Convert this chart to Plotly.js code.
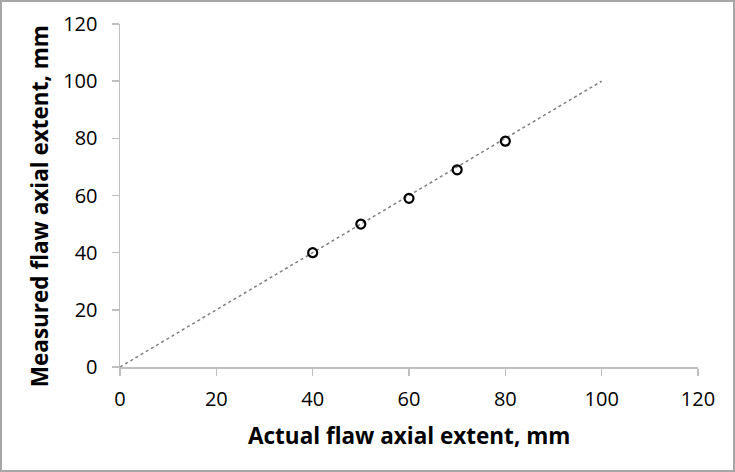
<!DOCTYPE html>
<html><head><meta charset="utf-8">
<script src="https://cdn.plot.ly/plotly-3.0.1.min.js"></script>
<style>
html,body{margin:0;padding:0;background:#fff;}
#wrap{width:735px;height:472px;box-sizing:border-box;border:2px solid #a6a6a6;background:#fff;}
#chart{width:731px;height:468px;}
</style></head>
<body><div id="wrap"><div id="chart"></div></div>
<script>
const actual = [40, 50, 60, 70, 80];
const measured = [40, 50, 59, 69, 79];
const refX = [0, 100];
const refY = [0, 100];
const tickVals = [0, 20, 40, 60, 80, 100, 120];
const xTitle = 'Actual flaw axial extent, mm';
const yTitle = 'Measured flaw axial extent, mm';

const traces = [
  {x: refX, y: refY, mode: 'lines', type: 'scatter',
   line: {color: '#7f7f7f', width: 1.5, dash: '3px,3px'}, hoverinfo: 'skip', showlegend: false},
  {x: actual, y: measured, mode: 'markers', type: 'scatter',
   marker: {symbol: 'circle-open', size: 9, color: '#000', line: {width: 2.2, color: '#000'}}, showlegend: false}
];
const fontFam = 'Open Sans, Liberation Sans, sans-serif';
const titleFont = {family: fontFam, size: 22.5, color: '#000', weight: 'bold'};
const layout = {
  width: 731, height: 468,
  margin: {l: 118, r: 35, t: 22, b: 103},
  paper_bgcolor: '#fff', plot_bgcolor: '#fff',
  showlegend: false,
  xaxis: {range: [0, 120], tickvals: tickVals, ticktext: tickVals.map(String),
    showgrid: false, zeroline: false, showline: true, linecolor: '#bfbfbf', linewidth: 1.5,
    ticks: 'outside', ticklen: 7, tickcolor: '#bfbfbf', tickwidth: 1.5, ticklabelstandoff: 6,
    tickfont: {family: fontFam, size: 20, color: '#000'}},
  yaxis: {range: [0, 120], tickvals: tickVals, ticktext: tickVals.map(String),
    showgrid: false, zeroline: false, showline: true, linecolor: '#bfbfbf', linewidth: 1.5,
    ticks: 'outside', ticklen: 7, tickcolor: '#bfbfbf', tickwidth: 1.5, ticklabelstandoff: 10,
    tickfont: {family: fontFam, size: 20, color: '#000'}},
  annotations: [
    {text: xTitle, xref: 'paper', yref: 'paper', x: 0.5, y: -0.2, xanchor: 'center', yanchor: 'middle',
     showarrow: false, font: titleFont},
    {text: yTitle, xref: 'paper', yref: 'paper', x: -0.14, y: 0.469, xanchor: 'center', yanchor: 'middle',
     textangle: -90, showarrow: false, font: titleFont}
  ]
};
Plotly.newPlot('chart', traces, layout, {displayModeBar: false, staticPlot: true});
</script></body></html>
